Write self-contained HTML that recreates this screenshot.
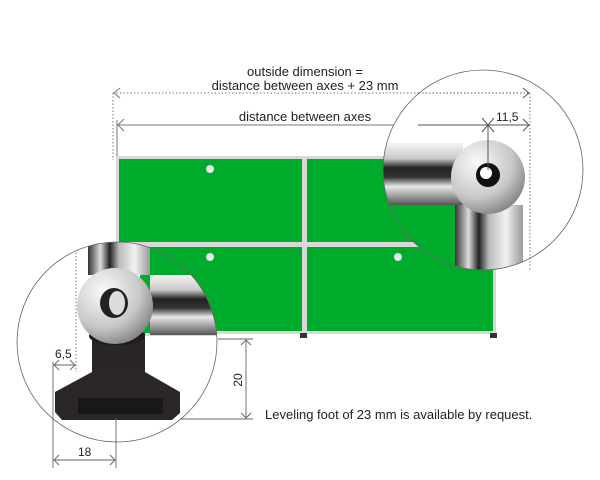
<!DOCTYPE html>
<html><head><style>
html,body{margin:0;padding:0;background:#fff;}
svg{display:block;font-family:"Liberation Sans",sans-serif;}
</style></head><body>
<svg width="600" height="480" viewBox="0 0 600 480">
<defs>
<linearGradient id="chH" x1="0" y1="0" x2="0" y2="1">
<stop offset="0" stop-color="#f4f4f4"/><stop offset="0.25" stop-color="#c9c9c9"/><stop offset="0.4" stop-color="#222"/><stop offset="0.55" stop-color="#333"/><stop offset="0.7" stop-color="#e8e8e8"/><stop offset="0.9" stop-color="#888"/><stop offset="1" stop-color="#555"/>
</linearGradient>
<linearGradient id="chV" x1="0" y1="0" x2="1" y2="0">
<stop offset="0" stop-color="#333"/><stop offset="0.2" stop-color="#ddd"/><stop offset="0.35" stop-color="#222"/><stop offset="0.5" stop-color="#bbb"/><stop offset="0.75" stop-color="#f2f2f2"/><stop offset="1" stop-color="#999"/>
</linearGradient>
<radialGradient id="ball" cx="0.35" cy="0.3" r="0.8">
<stop offset="0" stop-color="#fafafa"/><stop offset="0.6" stop-color="#c8c8c8"/><stop offset="1" stop-color="#777"/>
</radialGradient>
<clipPath id="cR"><circle cx="483" cy="170" r="100"/></clipPath>
<clipPath id="cL"><circle cx="117" cy="342" r="100"/></clipPath>
</defs>

<!-- cabinet -->
<rect x="116" y="156" width="380" height="178" fill="#d8d8d8"/>
<rect x="119" y="159" width="183" height="83" fill="#00aa2a"/>
<rect x="307" y="159" width="186" height="83" fill="#00aa2a"/>
<rect x="119" y="247" width="183" height="84" fill="#00aa2a"/>
<rect x="307" y="247" width="186" height="84" fill="#00aa2a"/>
<circle cx="210" cy="169" r="4" fill="#e8e8e8"/>
<circle cx="210" cy="257" r="4" fill="#e8e8e8"/>
<circle cx="398" cy="257" r="4" fill="#e8e8e8"/>
<rect x="300" y="333" width="7" height="5" fill="#333"/>
<rect x="490" y="333" width="7" height="5" fill="#333"/>

<!-- dimension lines -->
<g stroke="#777" fill="none" stroke-width="1">
<line x1="113" y1="93" x2="530" y2="93" stroke-dasharray="1.5,2"/>
<line x1="113" y1="93" x2="113" y2="160" stroke-dasharray="1.5,2"/>
<line x1="530" y1="93" x2="530" y2="270" stroke-dasharray="1.5,2"/>
<polyline points="120,88 114,93 120,98"/>
<polyline points="523,88 529,93 523,98"/>
<line x1="117" y1="125" x2="530" y2="125"/>
<line x1="117" y1="120" x2="117" y2="156"/>
<polyline points="124,119 118,125 124,131"/>
<polyline points="523,119 529,125 523,131"/>
<line x1="484" y1="118" x2="496" y2="132"/><line x1="496" y1="118" x2="484" y2="132"/>
</g>
<text x="305" y="76" font-size="13" text-anchor="middle" fill="#222">outside dimension =</text>
<text x="305" y="90" font-size="13" text-anchor="middle" fill="#222">distance between axes + 23 mm</text>
<text x="305" y="121" font-size="13" text-anchor="middle" fill="#222">distance between axes</text>

<!-- right circle -->
<g clip-path="url(#cR)">
<rect x="380" y="70" width="210" height="200" fill="#fff"/>
<rect x="380" y="158" width="75" height="112" fill="#00aa2a"/>
<line x1="530" y1="93" x2="530" y2="270" stroke="#777" stroke-dasharray="1.5,2"/>
<rect x="383" y="143" width="80" height="62" fill="url(#chH)"/>
<rect x="455" y="205" width="68" height="70" fill="url(#chV)"/>
<circle cx="488" cy="177" r="37" fill="url(#ball)"/>
<circle cx="488" cy="175" r="12" fill="#111"/>
<circle cx="486" cy="173" r="6" fill="#fff"/>
<g stroke="#555" fill="none"><line x1="488" y1="125" x2="488" y2="170"/>
<line x1="418" y1="125" x2="530" y2="125"/>
<polyline points="523,119 529,125 523,131"/>
<line x1="482" y1="118" x2="494" y2="132"/><line x1="494" y1="118" x2="482" y2="132"/>
<line x1="380" y1="93" x2="530" y2="93" stroke-dasharray="1.5,2"/>
<polyline points="523,88 529,93 523,98"/></g>
</g>
<circle cx="483" cy="170" r="100" fill="none" stroke="#666" stroke-width="0.8"/>
<text x="496" y="121" font-size="12" fill="#222">11,5</text>

<!-- left circle -->
<g clip-path="url(#cL)">
<rect x="17" y="242" width="200" height="200" fill="#fff"/>
<rect x="140" y="242" width="80" height="91" fill="#00aa2a"/>
<rect x="140" y="333" width="80" height="3" fill="#d8d8d8"/>
<rect x="150" y="275" width="70" height="60" fill="url(#chH)"/>
<rect x="88" y="240" width="62" height="35" fill="url(#chV)"/>
<path d="M92 333 L145 333 L145 378 L92 378 Z" fill="#2a2626"/>
<ellipse cx="117" cy="336" rx="28" ry="9" fill="#1e1b1b"/>
<path d="M92 372 L145 372 L180 392 L180 413 L172 420 L62 420 L55 412 L55 392 Z" fill="#2b2727"/>
<rect x="78" y="398" width="85" height="16" fill="#1a1717"/>
<circle cx="115" cy="306" r="38" fill="url(#ball)"/>
<ellipse cx="114" cy="303" rx="14" ry="15" fill="#222"/>
<ellipse cx="117" cy="303" rx="8" ry="12" fill="#ddd"/>
<line x1="76" y1="242" x2="76" y2="372" stroke="#777" stroke-dasharray="1.5,2"/>
</g>
<circle cx="117" cy="342" r="100" fill="none" stroke="#666" stroke-width="0.8"/>

<g stroke="#666" fill="none" stroke-width="0.9">
<line x1="53" y1="362" x2="53" y2="468"/>
<line x1="116" y1="418" x2="116" y2="468"/>
<line x1="53" y1="365" x2="76" y2="365"/>
<polyline points="59,360 54,365 59,370"/><polyline points="70,360 75,365 70,370"/>
<line x1="53" y1="460" x2="116" y2="460"/>
<polyline points="59,455 54,460 59,465"/><polyline points="110,455 115,460 110,465"/>
<line x1="218" y1="339" x2="253" y2="339"/>
<line x1="180" y1="419" x2="253" y2="419"/>
<line x1="246" y1="339" x2="246" y2="419"/>
<polyline points="241,345 246,340 251,345"/><polyline points="241,413 246,418 251,413"/>
</g>
<text x="55" y="358" font-size="12" fill="#222">6,5</text>
<text x="78" y="456" font-size="12" fill="#222">18</text>
<text x="242" y="380" font-size="12" fill="#222" text-anchor="middle" transform="rotate(-90 242 380)">20</text>
<text x="265" y="419" font-size="13" fill="#222">Leveling foot of 23 mm is available by request.</text>
</svg>
</body></html>
